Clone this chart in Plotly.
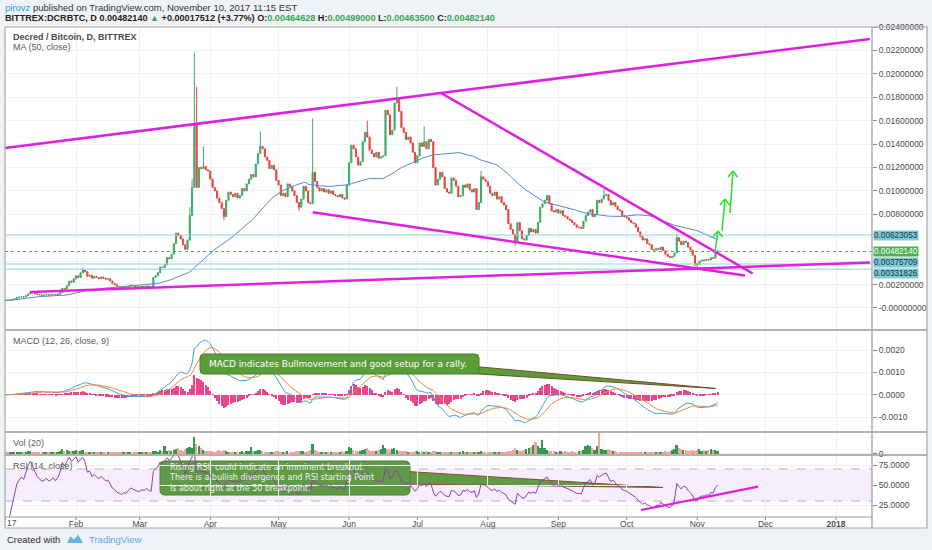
import numpy as np
import pandas as pd
import plotly.graph_objects as go

# ------------------------------------------------------------------ data
# daily closes of DCR/BTC, in units of 0.001 BTC
start_date = "2017-01-01"
open_first = 0.70
close_jan = [0.66, 0.64, 0.68, 0.72, 0.80, 0.88, 0.92, 0.96, 0.94, 1.05, 1.20, 1.36, 1.30, 1.22, 1.15, 1.12,
             1.08, 1.10, 1.14, 1.10, 1.12, 1.16, 1.12, 1.18, 1.30, 1.68, 1.62, 1.90, 2.30, 2.20, 2.50]
close_feb = [2.75, 2.60, 3.00, 3.25, 3.10, 2.70, 2.80, 2.55, 2.70, 2.60, 2.50, 2.65, 2.55, 2.45, 2.50, 2.30,
             2.10, 2.00, 1.85, 1.80, 1.72, 1.78, 1.75, 1.85, 1.95, 1.90, 1.85, 1.80]
close_mar = [1.80, 1.85, 1.82, 1.88, 1.80, 1.78, 2.60, 2.75, 3.00, 3.50, 3.45, 3.70, 4.30, 4.20, 4.60, 5.50,
             6.40, 6.20, 5.90, 5.40, 5.00, 5.80, 7.90, 10.30, 15.80, 10.30, 12.00, 11.90, 12.10, 11.80, 11.70]
close_apr = [11.0, 10.3, 10.0, 9.4, 9.0, 8.5, 7.8, 9.2, 9.9, 9.7, 9.5, 9.8, 9.4, 9.6, 10.2, 10.0,
             10.6, 11.0, 11.4, 11.2, 12.3, 13.2, 13.8, 13.6, 12.9, 12.6, 11.9, 12.2, 11.8, 10.9]
close_may = [10.5, 9.6, 9.8, 9.5, 10.6, 10.4, 10.0, 9.6, 9.0, 8.6, 9.3, 10.4, 10.0, 9.0, 8.9, 11.6,
             10.8, 10.3, 10.0, 10.2, 9.9, 10.1, 9.8, 10.0, 9.7, 9.6, 9.5, 9.7, 9.4, 9.3, 10.5]
close_jun = [12.4, 13.9, 13.6, 12.9, 12.2, 12.5, 14.2, 15.0, 14.6, 13.5, 13.2, 12.9, 13.3, 12.8, 12.9, 13.0,
             16.9, 16.5, 14.8, 15.2, 17.5, 17.8, 16.8, 15.4, 15.0, 14.4, 14.6, 14.1, 13.3, 12.4]
close_jul = [13.0, 14.1, 13.8, 14.2, 13.6, 14.4, 14.2, 12.0, 10.5, 11.0, 11.6, 11.2, 10.2, 9.9, 9.8, 11.1,
             10.9, 10.4, 9.5, 9.6, 10.5, 10.3, 10.6, 10.1, 9.9, 10.2, 8.4, 9.0, 11.2, 11.0, 10.8]
close_aug = [10.4, 9.8, 9.6, 9.9, 9.3, 9.5, 9.0, 8.8, 8.4, 7.2, 6.7, 6.3, 5.6, 7.3, 6.6, 5.9,
             5.8, 6.2, 6.8, 6.5, 6.7, 6.4, 7.3, 8.6, 8.9, 9.2, 9.6, 8.9, 8.3, 8.2, 8.4]
close_sep = [8.1, 8.3, 7.9, 7.8, 7.6, 7.5, 7.3, 7.1, 6.9, 6.9, 6.8, 7.4, 7.9, 8.2, 8.4, 7.8,
             8.0, 9.2, 9.0, 9.3, 9.6, 9.7, 9.2, 8.8, 9.0, 8.7, 8.4, 8.3, 7.9, 7.8]
close_oct = [7.7, 7.5, 7.3, 7.2, 6.9, 6.5, 6.1, 5.8, 5.9, 5.5, 5.4, 5.0, 4.95, 5.1, 5.0, 5.2,
             4.9, 4.6, 4.4, 4.3, 4.4, 4.7, 6.0, 5.7, 5.4, 5.7, 5.6, 5.2, 4.95, 4.5, 3.8]
close_nov = [3.7, 4.0, 4.1, 4.05, 4.15, 4.1, 4.3, 4.25, 4.64628, 4.8214]

# notable wicks (units of 0.001 BTC)
high_marks = {"2017-02-04": 3.45, "2017-03-23": 8.6, "2017-03-24": 11.0, "2017-03-25": 21.8,
              "2017-03-26": 18.9, "2017-03-29": 13.8, "2017-04-23": 15.1, "2017-05-16": 16.2,
              "2017-06-09": 16.0, "2017-06-22": 18.9, "2017-07-04": 15.5, "2017-07-29": 11.7,
              "2017-09-21": 10.2, "2017-10-23": 6.3, "2017-11-10": 4.99}
low_marks = {"2017-04-07": 7.5, "2017-05-10": 8.3, "2017-08-13": 5.3, "2017-10-31": 3.55,
             "2017-11-01": 3.5, "2017-11-10": 4.635}

# daily volume (relative units)
vol_jan = [1, 2, 1, 1, 2, 1, 1, 2, 2, 1, 3, 3, 2, 1, 1, 1, 2, 1, 1, 1, 1, 1, 1, 2, 3, 5, 3, 4, 3, 3, 3]
vol_feb = [4, 3, 3, 4, 2, 2, 1, 2, 1, 1, 1, 2, 1, 1, 1, 1, 2, 1, 1, 1, 1, 1, 1, 1, 1, 1, 1, 1]
vol_mar = [1, 1, 1, 1, 1, 1, 3, 3, 2, 4, 3, 8, 3, 4, 3, 4, 5, 6, 4, 3, 5, 6, 7, 6, 16, 10, 8, 6, 4, 3, 3]
vol_apr = [3, 3, 2, 3, 4, 3, 4, 3, 2, 2, 2, 2, 2, 2, 3, 2, 3, 3, 7, 3, 3, 4, 4, 3, 2, 2, 2, 2, 2, 3]
vol_may = [3, 2, 2, 2, 3, 2, 2, 2, 3, 3, 3, 3, 2, 3, 4, 10, 4, 3, 2, 2, 2, 2, 2, 2, 2, 2, 2, 2, 3, 2, 3]
vol_jun = [7, 6, 4, 3, 3, 3, 4, 5, 6, 4, 3, 3, 3, 4, 5, 9, 6, 5, 4, 5, 6, 4, 3, 3, 3, 3, 2, 2, 2, 3]
vol_jul = [3, 2, 3, 2, 3, 2, 2, 3, 3, 2, 2, 2, 2, 2, 2, 2, 2, 2, 2, 2, 3, 2, 2, 2, 2, 2, 2, 2, 3, 2, 2]
vol_aug = [2, 2, 2, 2, 2, 2, 2, 2, 2, 3, 3, 4, 6, 4, 3, 3, 4, 5, 6, 7, 9, 11, 8, 6, 13, 6, 4, 3, 3, 3, 2]
vol_sep = [2, 3, 2, 3, 2, 2, 3, 2, 2, 3, 3, 4, 8, 9, 8, 6, 4, 8, 20, 5, 4, 4, 5, 4, 3, 3, 2, 2, 2, 2]
vol_oct = [2, 2, 2, 2, 1, 2, 2, 2, 2, 1, 2, 2, 2, 1, 2, 2, 2, 3, 2, 3, 4, 5, 9, 6, 5, 4, 4, 3, 3, 4, 3]
vol_nov = [4, 5, 3, 4, 3, 4, 5, 4, 4, 3]

price_levels = [0.00623053, 0.00482140, 0.00375709, 0.00331826]
month_ticks = pd.date_range("2017-01-01", "2018-01-01", freq="MS")
month_labels = ["", "Feb", "Mar", "Apr", "May", "Jun", "Jul", "Aug", "Sep", "Oct", "Nov", "Dec", "<b>2018</b>"]
price_ticks = [i * 0.002 for i in range(13)]
price_hidden = [0.004, 0.006]          # labels covered by the price tags
macd_ticks = [-0.001, 0.0, 0.001, 0.002]
rsi_ticks = [25, 50, 75]

# ------------------------------------------------------------------ series
close = np.array(close_jan + close_feb + close_mar + close_apr + close_may + close_jun + close_jul
                 + close_aug + close_sep + close_oct + close_nov) * 1e-3
vol = np.array(vol_jan + vol_feb + vol_mar + vol_apr + vol_may + vol_jun + vol_jul
               + vol_aug + vol_sep + vol_oct + vol_nov, dtype=float)
dates = pd.date_range(start_date, periods=len(close), freq="D")
opn = np.r_[open_first * 1e-3, close[:-1]]
high = np.maximum(opn, close)
low = np.minimum(opn, close)
idx = {d.strftime("%Y-%m-%d"): i for i, d in enumerate(dates)}
for k, v in high_marks.items():
    high[idx[k]] = max(high[idx[k]], v * 1e-3)
for k, v in low_marks.items():
    low[idx[k]] = min(low[idx[k]], v * 1e-3)

s = pd.Series(close)
ma50 = s.rolling(50, min_periods=1).mean()
macd = s.ewm(span=12, adjust=False).mean() - s.ewm(span=26, adjust=False).mean()
signal = macd.ewm(span=9, adjust=False).mean()
hist = macd - signal
delta = s.diff()
gain = delta.clip(lower=0).ewm(alpha=1 / 14, adjust=False).mean()
loss = (-delta.clip(upper=0)).ewm(alpha=1 / 14, adjust=False).mean()
rsi = 100 - 100 / (1 + gain / loss)
up = close >= opn

# ------------------------------------------------------------------ geometry
W, H = 932, 550
L, R, T, B = 5, 872, 27, 517
def X(x): return (x - L) / (R - L)
def Y(y): return (B - y) / (B - T)

FONT = "Liberation Sans, Arial, sans-serif"
DFONT = "DejaVu Sans, Verdana, sans-serif"
t0 = pd.Timestamp(start_date)
xrange_ = [t0 - pd.Timedelta(hours=5), t0 + pd.Timedelta(days=380.8)]

fig = go.Figure()
fig.add_trace(go.Candlestick(
    x=dates, open=opn, high=high, low=low, close=close, xaxis="x", yaxis="y",
    increasing=dict(line=dict(color="#40a96c", width=1), fillcolor="#40a96c"),
    decreasing=dict(line=dict(color="#e8473f", width=1), fillcolor="#e8473f"),
    whiskerwidth=0, showlegend=False, hoverinfo="skip"))
fig.add_trace(go.Scatter(x=dates, y=ma50, mode="lines", line=dict(color="#5287d8", width=1),
                         xaxis="x", yaxis="y", showlegend=False, hoverinfo="skip"))
fig.add_trace(go.Bar(x=dates, y=hist, marker=dict(color="#e8458a", line=dict(width=0)),
                     width=0.45 * 86400000, xaxis="x2", yaxis="y2", showlegend=False, hoverinfo="skip"))
fig.add_trace(go.Scatter(x=dates, y=macd, mode="lines", line=dict(color="#3d9fe6", width=1),
                         xaxis="x2", yaxis="y2", showlegend=False, hoverinfo="skip"))
fig.add_trace(go.Scatter(x=dates, y=signal, mode="lines", line=dict(color="#f4893a", width=1),
                         xaxis="x2", yaxis="y2", showlegend=False, hoverinfo="skip"))
fig.add_trace(go.Bar(x=dates, y=vol, marker=dict(color=np.where(up, "#2f9a48", "#f3a3a3"), line=dict(width=0)),
                     width=0.75 * 86400000, xaxis="x3", yaxis="y3", showlegend=False, hoverinfo="skip"))
fig.add_trace(go.Scatter(x=dates, y=rsi, mode="lines", line=dict(color="#8d3fb0", width=1),
                         xaxis="x4", yaxis="y4", showlegend=False, hoverinfo="skip"))

grid = "#edf0f4"
xcommon = dict(range=xrange_, tickvals=list(month_ticks), showgrid=True, gridcolor=grid, gridwidth=1,
               zeroline=False, showline=False, domain=[0, 1], fixedrange=True)
ycommon = dict(side="right", showgrid=True, gridcolor=grid, zeroline=False, showline=False,
               ticks="outside", ticklen=4, tickcolor="#8a8a8a", fixedrange=True,
               tickfont=dict(family=FONT, size=8.5, color="#4a4a4a"))

def price_label(v):
    if any(abs(v - h) < 1e-9 for h in price_hidden):
        return ""
    return "-0.00000000" if v == 0 else f"{v:.8f}"

fig.update_layout(
    width=W, height=H, margin=dict(l=L, r=W - R, t=T, b=H - B),
    paper_bgcolor="#eff2f6", plot_bgcolor="#ffffff", bargap=0, showlegend=False,
    font=dict(family=FONT, size=9, color="#4a4a4a"),
    xaxis=dict(**xcommon, anchor="y", showticklabels=False, rangeslider=dict(visible=False)),
    xaxis2=dict(**xcommon, anchor="y2", showticklabels=False),
    xaxis3=dict(**xcommon, anchor="y3", showticklabels=False),
    xaxis4=dict(**xcommon, anchor="y4", ticktext=month_labels, ticks="",
                tickfont=dict(family=FONT, size=8.5, color="#4a4a4a")),
    yaxis=dict(**ycommon, domain=[Y(330), 1], range=[-0.00188, 0.0240], tickvals=price_ticks,
               ticktext=[price_label(v) for v in price_ticks]),
    yaxis2=dict(**ycommon, domain=[Y(432), Y(330)], range=[-0.00167, 0.0029], tickvals=macd_ticks,
                ticktext=[f"{v:.4f}" for v in macd_ticks]),
    yaxis3=dict(**ycommon, domain=[Y(455), Y(432)], range=[-1, 21], tickvals=[0], ticktext=["0"]),
    yaxis4=dict(**ycommon, domain=[0, Y(455)], range=[10, 87.5], tickvals=rsi_ticks,
                ticktext=[f"{v:.4f}" for v in rsi_ticks]),
)

shapes = []
def pline(x0, y0, x1, y1, color, width=1, dash="solid", layer="above"):
    shapes.append(dict(type="line", xref="paper", yref="paper", x0=X(x0), y0=Y(y0), x1=X(x1), y1=Y(y1),
                       line=dict(color=color, width=width, dash=dash), layer=layer))

# white frame outside the plot area (axis strips)
shapes.append(dict(type="rect", xref="paper", yref="paper", x0=X(R), x1=X(927), y0=Y(528), y1=Y(T),
                   fillcolor="white", line=dict(width=0), layer="below"))
shapes.append(dict(type="rect", xref="paper", yref="paper", x0=X(L), x1=X(R), y0=Y(528), y1=Y(B),
                   fillcolor="white", line=dict(width=0), layer="below"))

# tiny date tick marks
for tk in month_ticks:
    shapes.append(dict(type="line", xref="x4", yref="paper", x0=tk, x1=tk, y0=Y(B), y1=Y(B + 3),
                       line=dict(color="#8a8a8a", width=1), layer="above"))

# price level lines
for lv, col, dash in [(price_levels[0], "#8fd3d8", "solid"), (price_levels[2], "#8fd3d8", "solid"),
                      (price_levels[3], "#8fd3d8", "solid"), (price_levels[1], "#4caf50", "dot")]:
    shapes.append(dict(type="line", xref="paper", yref="y", x0=0, x1=1, y0=lv, y1=lv,
                       line=dict(color=col, width=1, dash=dash), layer="above"))

# RSI band
shapes.append(dict(type="rect", xref="paper", yref="y4", x0=0, x1=1, y0=30, y1=70,
                   fillcolor="rgba(186,120,240,0.13)", line=dict(width=0), layer="below"))
for lv in (30, 70):
    shapes.append(dict(type="line", xref="paper", yref="y4", x0=0, x1=1, y0=lv, y1=lv,
                       line=dict(color="#c6a3d8", width=1, dash="dash"), layer="between"))

# trend lines (drawings)
MAG = "#e11fe0"
pline(5, 148, 870, 39, MAG, 2.5)
pline(30, 292, 870, 262.4, MAG, 2.5)
pline(441.7, 93.3, 752.7, 273.5, MAG, 2.5)
pline(312.7, 212.3, 745, 275.6, MAG, 2.5)
pline(641, 510, 758, 486.7, MAG, 2.2)

# green arrows
GR = "#33dd33"
for (sx, sy, tx, ty) in [(715, 252, 718, 231), (722, 231, 725, 199), (730, 213, 733, 171)]:
    pline(sx, sy, tx, ty, GR, 1.6)
    pline(tx - 5, ty + 6, tx, ty, GR, 1.6)
    pline(tx + 4.5, ty + 6, tx, ty, GR, 1.6)

def rrect(x0, y0, x1, y1, r):
    return (f"M{X(x0 + r)},{Y(y0)} L{X(x1 - r)},{Y(y0)} Q{X(x1)},{Y(y0)} {X(x1)},{Y(y0 + r)} "
            f"L{X(x1)},{Y(y1 - r)} Q{X(x1)},{Y(y1)} {X(x1 - r)},{Y(y1)} L{X(x0 + r)},{Y(y1)} "
            f"Q{X(x0)},{Y(y1)} {X(x0)},{Y(y1 - r)} L{X(x0)},{Y(y0 + r)} Q{X(x0)},{Y(y0)} {X(x0 + r)},{Y(y0)} Z")

def tri(p):
    return "M" + " L".join(f"{X(a)},{Y(b)}" for a, b in p) + " Z"

# RSI callout (under the RSI line)
shapes.append(dict(type="path", xref="paper", yref="paper", path=tri([(400, 471), (663, 487.5), (400, 484)]),
                   fillcolor="#5f9b45", line=dict(color="#8a4b2e", width=1), layer="between"))
shapes.append(dict(type="path", xref="paper", yref="paper", path=rrect(160, 461, 410, 495, 5),
                   fillcolor="#5f9b45", line=dict(color="#4b7f34", width=1), layer="between"))
# MACD callout (above)
shapes.append(dict(type="path", xref="paper", yref="paper", path=tri([(470, 366), (716, 388.5), (470, 373.5)]),
                   fillcolor="#5a9d3b", line=dict(color="#7a4a2a", width=1), layer="above"))
shapes.append(dict(type="path", xref="paper", yref="paper", path=rrect(200, 354, 479, 374, 4),
                   fillcolor="#5a9d3b", line=dict(color="#477f2c", width=1), layer="above"))

# pane separators and frame
SEP = "#9a9a9a"
for yy in (330, 432, 455):
    pline(L, yy, 927, yy, SEP, 1.5)
pline(L, B, R, B, SEP, 1.2)
pline(R, T, R, 528, SEP, 1.2)
shapes.append(dict(type="rect", xref="paper", yref="paper", x0=X(L), x1=X(927), y0=Y(528), y1=Y(T),
                   line=dict(color="#a8a8a8", width=1.2), fillcolor="rgba(0,0,0,0)", layer="above"))
# logo
shapes.append(dict(type="path", xref="paper", yref="paper",
                   path=tri([(67, 543), (70.5, 536.5), (74, 539.5), (78, 534.5), (83, 543)]),
                   fillcolor="#63b2e6", line=dict(width=0), layer="above"))
fig.update_layout(shapes=shapes)

ann = []
def text(x, y, t, size=9, color="#4a4a4a", anchor="left", family=FONT, **kw):
    ann.append(dict(x=X(x), y=Y(y), xref="paper", yref="paper", text=t, showarrow=False,
                    xanchor=anchor, yanchor="middle", font=dict(family=family, size=size, color=color), **kw))

G = "#33a852"
text(3, 7.5, "<span style='color:#2f9be0'>pirovz</span> published on TradingView.com, November 10, 2017 11:15 EST",
     9.5, "#333333")
text(3, 18.5, "<b>BITTREX:DCRBTC, D 0.00482140 <span style='color:#3aa64d'>▲</span> +0.00017512 (+3.77%) "
     f"O:<span style='color:{G}'>0.00464628</span> H:<span style='color:{G}'>0.00499000</span> "
     f"L:<span style='color:{G}'>0.00463500</span> C:<span style='color:{G}'>0.00482140</span></b>",
     9.1, "#222222")
text(11, 36.5, "<b>Decred / Bitcoin, D, BITTREX</b>", 9, "#4a4a4a")
text(11, 47.5, "MA (50, close)", 9, "#5a5a5a")
text(11, 340.5, "MACD (12, 26, close, 9)", 9, "#5a5a5a")
text(11, 443, "Vol (20)", 9, "#5a5a5a")
text(11, 465.5, "RSI (14, close)", 9, "#5a5a5a")
text(5, 522.5, "17", 8.5, "#4a4a4a")
text(5, 539, "Created with", 9.5, "#333333")
text(87, 539, "TradingView", 9.5, "#5aa8e2")
text(207, 364, "MACD indicates Bullmovement and good setup for a rally.", 8.95, "#ffffff", family=DFONT)
text(167, 477.5, "Rising RSI  could indicate an imminent breakout.<br>"
     "There is a bullish divergence and RSI starting Point<br>is about right at the 50 breakpoint.",
     8.0, "#f2f2f2", family=DFONT, align="left")

# price labels on the price axis
lab_styles = [("#7fc9d1", "#15324a", 0), ("#4caf50", "#ffffff", 0), ("#7fc9d1", "#15324a", 1.5),
              ("#7fc9d1", "#15324a", -4.5)]
for lv, (bg, fc, ys) in zip(price_levels, lab_styles):
    ann.append(dict(x=1, xref="paper", y=lv, yref="y", text=f"{lv:.8f}", showarrow=False, xanchor="left",
                    yanchor="middle", xshift=1, yshift=ys, bgcolor=bg, borderpad=0,
                    font=dict(family=FONT, size=8.2, color=fc)))
fig.update_layout(annotations=ann)

fig.write_html("out.html", config={"displayModeBar": False},
               post_script="document.body.style.margin='0px';document.body.style.padding='0px';")
